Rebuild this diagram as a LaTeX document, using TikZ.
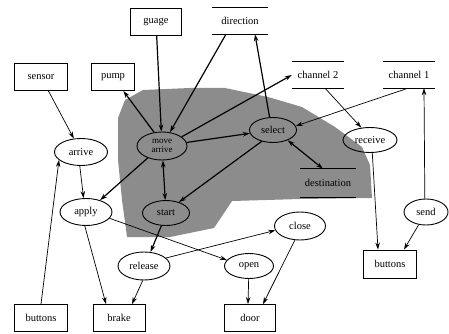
\documentclass[tikz,border=0pt]{standalone}
\usepackage{fontspec}
\setmainfont{Liberation Serif}
\usetikzlibrary{arrows.meta,shapes.geometric}
\begin{document}
\begin{tikzpicture}[x=1pt,y=-1pt,
  every node/.style={font=\rmfamily\fontsize{10.5}{11}\selectfont, inner sep=0pt},
  term/.style={draw, line width=0.9pt, rectangle, minimum width=52pt, minimum height=27pt},
  proc/.style={draw, line width=0.9pt, ellipse, minimum width=52pt, minimum height=27pt},
  store/.style={rectangle, minimum width=53pt, minimum height=26pt},
  storeline/.style={line width=0.9pt},
  flow/.style={-{Stealth[length=7pt,width=4.5pt]}, line width=0.7pt},
  thickflow/.style={-{Stealth[length=7pt,width=4.5pt]}, line width=1.2pt},
  shade/.style={fill=black!45, draw=none}
]
\useasboundingbox (0,0) rectangle (449,334);

% shaded region
\path[shade] (118,118) -- (125,100) -- (143,90) -- (190,88) -- (225,88) -- (268,97)
  -- (302,107) -- (335,127) -- (362,147) -- (370,165) -- (372,198) -- (300,199)
  -- (232,201) -- (214,228) -- (170,237) -- (127,237) -- (122,200) -- (118,160) -- cycle;

% terminators
\node[term, minimum width=51pt] (guage) at (156,22) {guage};
\node[term, minimum width=53pt] (sensor) at (41,77) {sensor};
\node[term, minimum width=43pt] (pump) at (113,77) {pump};
\node[term, minimum width=53pt, minimum height=28pt] (btnR) at (390,264) {buttons};
\node[term, minimum width=53pt] (btnL) at (41,318) {buttons};
\node[term, minimum width=52pt] (brake) at (119,318) {brake};
\node[term, minimum width=51pt] (door) at (250,318) {door};

% stores
\node[store, minimum width=56pt] (direction) at (240,21) {direction};
\node[store, minimum width=52pt] (ch2) at (318,75) {channel 2};
\node[store, minimum width=52pt] (ch1) at (409,75) {channel 1};
\node[store, minimum width=56pt, minimum height=28pt] (dest) at (328,183) {destination};
\foreach \s in {direction,ch2,ch1,dest}{
  \draw[storeline] (\s.north west) -- (\s.north east);
  \draw[storeline] (\s.south west) -- (\s.south east);
}

% processes
\node[proc, minimum width=53pt] (arrive) at (81,152) {arrive};
\node[proc, minimum width=50pt, minimum height=28pt, align=center, font=\rmfamily\fontsize{9}{9}\selectfont] (move) at (162,146) {move\\arrive};
\node[proc, minimum width=47pt, minimum height=25pt] (select) at (273,130) {select};
\node[proc, minimum width=54pt, minimum height=25pt] (receive) at (370,140) {receive};
\node[proc, minimum width=52pt] (apply) at (86,212) {apply};
\node[proc, minimum width=47pt, minimum height=25pt] (start) at (166,213) {start};
\node[proc, minimum width=44pt, minimum height=26pt] (send) at (426,212) {send};
\node[proc, minimum width=52pt, minimum height=28pt] (release) at (144,266) {release};
\node[proc, minimum width=51pt, minimum height=28pt] (close) at (300,226) {close};
\node[proc, minimum width=49pt, minimum height=25pt] (open) at (249,266) {open};

% flows
\draw[flow] (sensor) -- (arrive);
\draw[thickflow] (guage) -- (move);
\draw[thickflow] ([xshift=-14pt]direction.south) -- (move.60);
\draw[thickflow] (move.120) -- (pump);
\draw[thickflow] (select.105) -- ([xshift=15pt]direction.south);
\draw[thickflow] (move.25) -- (ch2.west);
\draw[flow] ([xshift=-1pt]ch1.south) -- (select.10);
\draw[flow] ([xshift=7pt]ch2.south) -- (receive.125);
\draw[flow] (receive.-80) -- ([xshift=-12pt]btnR.north);
\draw[flow] (send.95) -- ([xshift=15pt]ch1.south);
\draw[flow] (send.-120) -- ([xshift=14pt]btnR.north);
\draw[thickflow] (move) -- (select);
\draw[thickflow, {Stealth[length=7pt,width=4.5pt]}-{Stealth[length=7pt,width=4.5pt]}] (move) -- (start);
\draw[thickflow] (select.-135) -- (start.40);
\draw[thickflow, {Stealth[length=7pt,width=4.5pt]}-{Stealth[length=7pt,width=4.5pt]}] (select.-35) -- ([xshift=-5pt]dest.north);
\draw[thickflow] (move.-140) -- (apply.40);
\draw[flow] (arrive.-95) -- (apply.100);
\draw[flow] (btnL.north) -- (arrive.-160);
\draw[flow] (apply.-95) -- ([xshift=-13pt]brake.north);
\draw[flow] (apply.-15) -- (open.165);
\draw[flow] (release.20) -- (close.190);
\draw[thickflow] (start.-110) -- (release.65);
\draw[flow] (release.-95) -- ([xshift=13pt]brake.north);
\draw[flow] (open) -- ([xshift=-2pt]door.north);
\draw[flow] (close.-110) -- ([xshift=13pt]door.north);
\end{tikzpicture}
\end{document}
